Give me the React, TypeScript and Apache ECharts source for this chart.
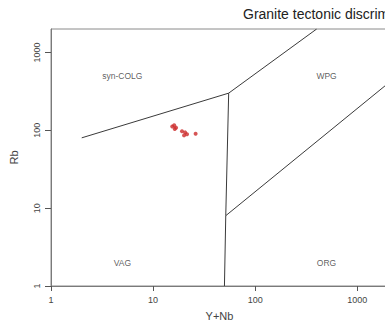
import { useEffect, useRef } from "react";
import * as echarts from "echarts";

// Decade ticks on both log axes
const xTicks = [1, 10, 100, 1000];
const yTicks = [1, 10, 100, 1000];

// Sample compositions (ppm)
const sampleYNb = [15.4, 16.1, 16.8, 16.3, 19.2, 20.6, 20.1, 21.5, 26.1];
const sampleRb = [112, 116, 108, 104, 97, 94, 86, 89, 90];

// Pearce et al. (1984) field boundaries, [Y+Nb, Rb]
const colgBoundary = [[2, 80], [55, 300], [400, 2000]];
const vagBoundary = [[55, 300], [51.5, 8], [50, 1]];
const orgBoundary = [[51.5, 8], [2000, 400]];

// Field labels and their anchor positions
const fieldNames = ["syn-COLG", "WPG", "VAG", "ORG"];
const fieldX = [5, 500, 5, 500];
const fieldY = [500, 500, 2, 2];

const FONT = "'Liberation Sans', Arial, sans-serif";

export default function App() {
  const ref = useRef<HTMLDivElement>(null);

  useEffect(() => {
    if (!ref.current) return;
    const chart = echarts.init(ref.current, null, { renderer: "svg" });

    const boundaryStyle = { color: "#3a3a3a", width: 1 };
    const boundary = (data: number[][]) => ({
      type: "line",
      data,
      symbol: "none",
      silent: true,
      lineStyle: boundaryStyle,
      z: 2,
    });

    chart.setOption({
      animation: false,
      backgroundColor: "#ffffff",
      title: {
        text: "Granite tectonic discrimination diagram",
        left: 243,
        top: 7,
        padding: 0,
        textStyle: {
          fontFamily: FONT,
          fontSize: 14,
          fontWeight: "normal",
          color: "#222",
        },
      },
      grid: {
        left: 51,
        top: 29,
        width: 337,
        height: 257,
        outerBoundsMode: "none",
        containLabel: false,
        show: true,
        borderColor: "#8a8a8a",
        borderWidth: 1,
        backgroundColor: "transparent",
      },
      xAxis: {
        type: "log",
        logBase: 10,
        min: 1,
        max: 2000,
        name: "Y+Nb",
        nameLocation: "middle",
        nameGap: 24,
        nameTextStyle: { fontFamily: FONT, fontSize: 11, color: "#444" },
        axisLine: { show: true, onZero: false, lineStyle: { color: "#7a7a7a", width: 1 } },
        axisTick: { show: true, customValues: xTicks, length: 5, lineStyle: { color: "#555" } },
        axisLabel: {
          customValues: xTicks,
          fontFamily: FONT,
          fontSize: 9,
          color: "#444",
          margin: 9,
          formatter: (v: number) => String(Math.round(v)),
        },
        splitLine: { show: false },
        minorTick: { show: false },
      },
      yAxis: {
        type: "log",
        logBase: 10,
        min: 1,
        max: 2000,
        name: "Rb",
        nameLocation: "middle",
        nameGap: 32,
        nameRotate: 90,
        nameTextStyle: { fontFamily: FONT, fontSize: 11, color: "#444" },
        axisLine: { show: true, onZero: false, lineStyle: { color: "#7a7a7a", width: 1 } },
        axisTick: { show: true, customValues: yTicks, length: 6, lineStyle: { color: "#555" } },
        axisLabel: {
          customValues: yTicks,
          rotate: 90,
          fontFamily: FONT,
          fontSize: 9,
          color: "#444",
          margin: 10,
          formatter: (v: number) => String(Math.round(v)),
        },
        splitLine: { show: false },
        minorTick: { show: false },
      },
      series: [
        boundary(colgBoundary),
        boundary(vagBoundary),
        boundary(orgBoundary),
        {
          type: "scatter",
          data: fieldNames.map((n, i) => ({ name: n, value: [fieldX[i], fieldY[i]] })),
          symbolSize: 0,
          silent: true,
          label: {
            show: true,
            position: "inside",
            formatter: (p: any) => p.name,
            fontFamily: FONT,
            fontSize: 8.5,
            color: "#333",
          },
        },
        {
          type: "scatter",
          data: sampleYNb.map((x, i) => [x, sampleRb[i]]),
          symbol: "circle",
          symbolSize: 4,
          itemStyle: { color: "#cc2a2a" },
          z: 3,
        },
      ],
    });

    return () => chart.dispose();
  }, []);

  return (
    <div
      ref={ref}
      style={{ position: "absolute", left: 0, top: 0, width: 385, height: 322, background: "#fff" }}
    />
  );
}
